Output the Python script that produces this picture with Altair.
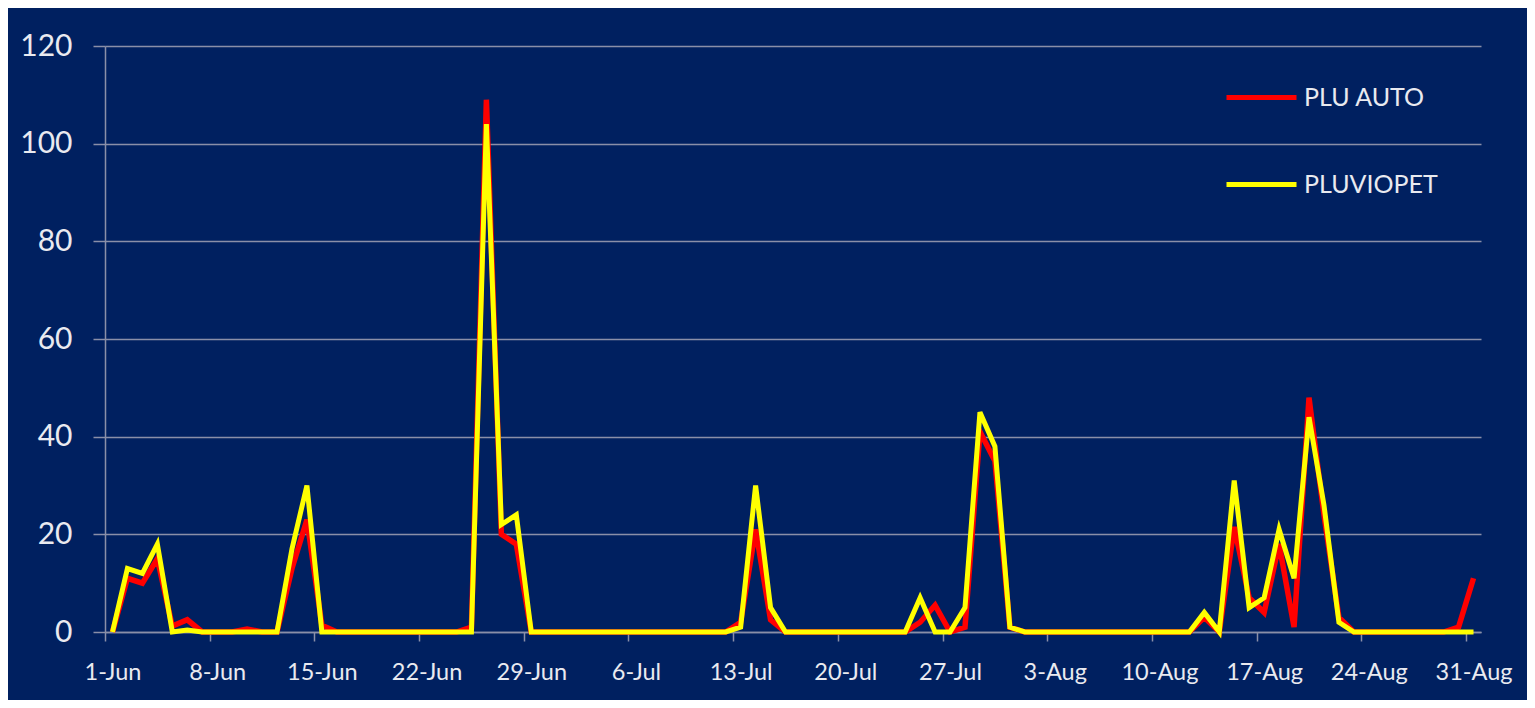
import altair as alt
import pandas as pd

# ---- data (daily rainfall, 1-Jun .. 31-Aug) ----
days = list(range(92))
tick_days = [0, 7, 14, 21, 28, 35, 42, 49, 56, 63, 70, 77, 84, 91]
tick_labels = ["1-Jun", "8-Jun", "15-Jun", "22-Jun", "29-Jun", "6-Jul", "13-Jul",
               "20-Jul", "27-Jul", "3-Aug", "10-Aug", "17-Aug", "24-Aug", "31-Aug"]

plu_auto = [
    0, 11, 10, 15, 1.2, 2.5, 0, 0, 0, 0.6,          # 0-9
    0, 0, 13, 23, 1.4, 0, 0, 0, 0, 0,               # 10-19
    0, 0, 0, 0, 1, 109, 20, 18, 0, 0,               # 20-29
    0, 0, 0, 0, 0, 0, 0, 0, 0, 0,                   # 30-39
    0, 0, 2, 21, 2.5, 0, 0, 0, 0, 0,                # 40-49
    0, 0, 0, 0, 2, 5.5, 0, 1, 41, 35,               # 50-59
    1, 0, 0, 0, 0, 0, 0, 0, 0, 0,                   # 60-69
    0, 0, 0, 3, 0, 21.5, 7, 4, 18, 1,               # 70-79
    48, 24, 3, 0, 0, 0, 0, 0, 0, 0,                 # 80-89
    1, 11,                                          # 90-91
]
pluviopet = [
    0, 13, 12, 18, 0, 0.4, 0, 0, 0, 0,
    0, 0, 17, 30, 0, 0, 0, 0, 0, 0,
    0, 0, 0, 0, 0, 104, 22, 24, 0, 0,
    0, 0, 0, 0, 0, 0, 0, 0, 0, 0,
    0, 0, 1, 30, 5, 0, 0, 0, 0, 0,
    0, 0, 0, 0, 7, 0, 0, 5, 45, 38,
    1, 0, 0, 0, 0, 0, 0, 0, 0, 0,
    0, 0, 0, 4, 0, 31, 5, 7, 21, 11,
    44, 26, 2, 0, 0, 0, 0, 0, 0, 0,
    0, 0,
]
series_names = ["PLU AUTO", "PLUVIOPET"]
series_colors = ["#FF0000", "#FFFF00"]
y_ticks = [0, 20, 40, 60, 80, 100, 120]

df = pd.DataFrame({
    "day": days + days,
    "value": plu_auto + pluviopet,
    "series": [series_names[0]] * len(days) + [series_names[1]] * len(days),
})

BG = "#002060"
GRID = "#8A8FA8"
TXT = "#E9EAF0"
FONT = "Lato"

label_expr = "[" + ",".join("'%s'" % t for t in tick_labels) + "][round(datum.value/7)]"

x_enc = alt.X(
    "day:Q",
    scale=alt.Scale(domain=[-0.5, 91.5], nice=False, zero=False),
    axis=alt.Axis(
        values=tick_days, labelExpr=label_expr, grid=False, title=None,
        tickSize=9, tickColor=GRID, tickWidth=1.5, domainColor=GRID, domainWidth=1.5,
        tickOffset=-7.48, labelOffset=7.48,
        labelFont=FONT, labelFontSize=23.5, labelColor=TXT, labelPadding=19,
    ),
)
y_enc = alt.Y(
    "value:Q",
    scale=alt.Scale(domain=[0, 120], nice=False),
    axis=alt.Axis(
        values=y_ticks, grid=True, gridColor=GRID, gridWidth=1.5, title=None,
        tickSize=12, tickColor=GRID, tickWidth=1.5, domainColor=GRID, domainWidth=1.5,
        labelFont=FONT, labelFontSize=30, labelColor=TXT, labelPadding=21,
    ),
)
color_enc = alt.Color(
    "series:N",
    scale=alt.Scale(domain=series_names, range=series_colors),
    legend=alt.Legend(
        title=None, orient="none", legendX=1119, legendY=14,
        symbolType="stroke", symbolSize=4900, symbolStrokeWidth=5,
        labelFont=FONT, labelFontSize=25, labelColor=TXT, labelOffset=5,
        rowPadding=36, padding=0,
    ),
)

base = alt.Chart(df).encode(x=x_enc, y=y_enc, color=color_enc)
red = base.transform_filter(alt.datum.series == series_names[0]).mark_line(strokeWidth=5.5)
yellow = base.transform_filter(alt.datum.series == series_names[1]).mark_line(strokeWidth=5)

chart = (
    alt.layer(red, yellow)
    .properties(
        width=1376, height=586,
        padding={"left": 97, "top": 38, "right": 46, "bottom": 68},
        autosize=alt.AutoSizeParams(type="none"),
        background=BG,
    )
    .configure_view(stroke=None)
)

chart.save("out.html", embed_options={"renderer": "svg", "actions": False})
